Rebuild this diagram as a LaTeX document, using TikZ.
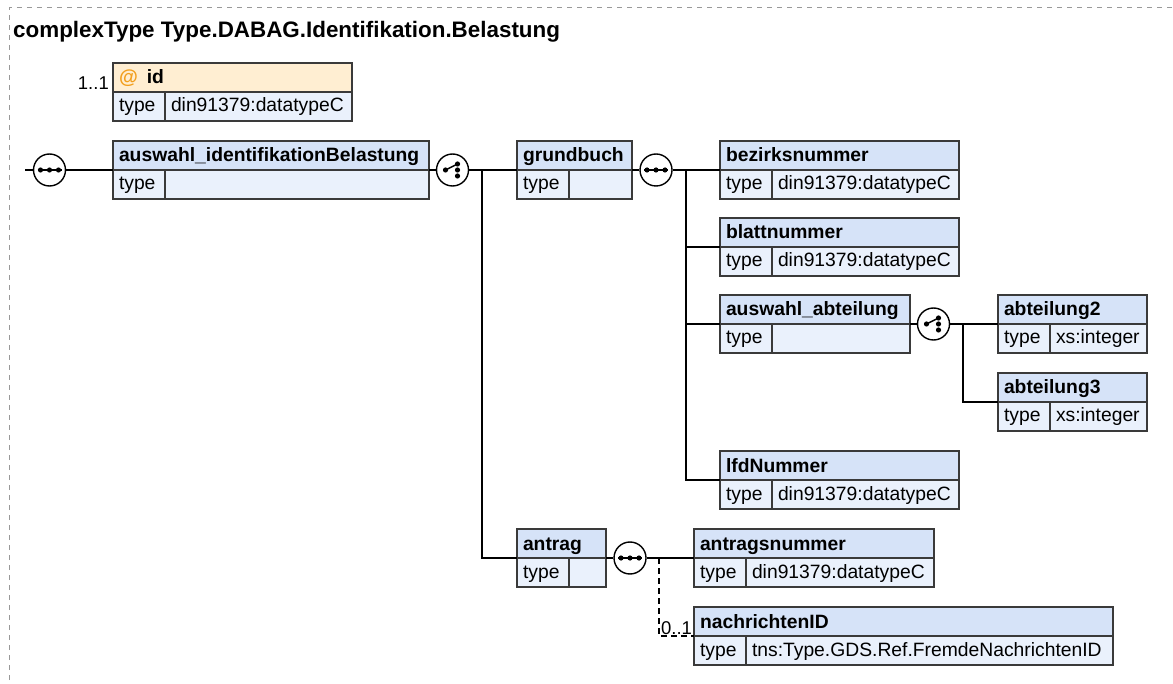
\documentclass[tikz,border=0pt]{standalone}
\usepackage{fontspec}
\setmainfont{Liberation Sans}
\usetikzlibrary{calc}

\definecolor{hdrblue}{HTML}{D6E3F8}
\definecolor{typblue}{HTML}{EAF1FC}
\definecolor{attrorange}{HTML}{FFEED2}
\definecolor{atsign}{HTML}{F29F1E}
\definecolor{frameg}{HTML}{999999}
\definecolor{boxline}{HTML}{3A3A3A}

% element box: name, top-left, width, title, type, header fill
\newcommand{\xsdbox}[6]{%
  \pgfmathsetmacro{\hw}{#3-12}%
  \pgfmathsetmacro{\vw}{#3-64}%
  \node[hdr, fill=#6, text width=\hw pt] (#1) at #2 {#4};
  \node[typcell, text width=40pt] (#1-k) at (#1.south west) {type};
  \node[typcell, text width=\vw pt] (#1-v) at (#1-k.north east) {#5};
}
\newcommand{\seqmark}[1]{%
  \begin{scope}[shift={(#1.center)}]
    \draw[line width=1.4pt] (-12,0) -- (12,0);
    \foreach \d in {-9,0,9} \fill (\d,0) circle (2.6);
  \end{scope}}
\newcommand{\choicemark}[1]{%
  \begin{scope}[shift={(#1.center)}]
    \draw[line width=1.4pt] (-7,0) -- (5,-6);
    \fill (-7,0) circle (2.6) (5,-6) circle (2.6) (5,0) circle (2.6) (5,6) circle (2.6);
  \end{scope}}

\begin{document}
\begin{tikzpicture}[
  x=1pt, y=-1pt,
  hdr/.style={draw=boxline, line width=1.4pt, anchor=north west, align=left, outer sep=0pt,
    inner ysep=0pt, inner xsep=6pt, minimum height=29pt, text height=21pt, text depth=8pt,
    font=\bfseries\fontsize{19.3}{22}\selectfont},
  typcell/.style={draw=boxline, fill=typblue, line width=1.4pt, anchor=north west, align=left,
    outer sep=0pt, inner ysep=0pt, inner xsep=6pt, minimum height=29pt, text height=20pt,
    text depth=9pt, font=\fontsize{19.3}{22}\selectfont},
  grp/.style={circle, draw=black, fill=white, line width=1.4pt, minimum size=32pt, inner sep=0pt},
  conn/.style={line width=1.4pt, black},
  mult/.style={font=\fontsize{18.5}{20}\selectfont, inner sep=1pt},
]
\useasboundingbox (0,0) rectangle (1173,684);
\clip (0,0) rectangle (1173,684);
\draw[frameg, line width=1pt, dash pattern=on 5pt off 5pt] (9,700) |- (1190,8);

\node[anchor=base west, inner sep=0pt, font=\bfseries\fontsize{22.4}{25}\selectfont] (title) at (13,38)
  {complexType Type.DABAG.Identifikation.Belastung};

% attribute
\xsdbox{idattr}{(113,63)}{239}{\textcolor{atsign}{@}\hspace{9pt}id}{din91379:datatypeC}{attrorange}
\node[mult, anchor=base east] (idmult) at (110,90) {1..1};

% elements
\xsdbox{auswahlIB}{(113,141)}{316}{auswahl\_identifikationBelastung}{}{hdrblue}
\xsdbox{grundbuch}{(517,141)}{115}{grundbuch}{}{hdrblue}
\xsdbox{bezirksnummer}{(720,141)}{239}{bezirksnummer}{din91379:datatypeC}{hdrblue}
\xsdbox{blattnummer}{(720,218)}{239}{blattnummer}{din91379:datatypeC}{hdrblue}
\xsdbox{auswahlAbt}{(720,295)}{190}{auswahl\_abteilung}{}{hdrblue}
\xsdbox{abteilung2}{(998,295)}{149}{abteilung2}{xs:integer}{hdrblue}
\xsdbox{abteilung3}{(998,373)}{149}{abteilung3}{xs:integer}{hdrblue}
\xsdbox{lfdNummer}{(720,451)}{239}{lfdNummer}{din91379:datatypeC}{hdrblue}
\xsdbox{antrag}{(517,529)}{89}{antrag}{}{hdrblue}
\xsdbox{antragsnummer}{(694,529)}{240}{antragsnummer}{din91379:datatypeC}{hdrblue}
\xsdbox{nachrichtenID}{(694,607)}{419}{nachrichtenID}{tns:Type.GDS.Ref.FremdeNachrichtenID}{hdrblue}

% sequence / choice groups
\node[grp] (seqRoot) at (49.5,170) {};
\node[grp] (choiceIB) at (452.5,170) {};
\node[grp] (seqGrundbuch) at (656,170) {};
\node[grp] (choiceAbt) at (933.5,324) {};
\node[grp] (seqAntrag) at (630,558) {};

\coordinate (start) at (25,170);
\coordinate (brIB) at (482,170);
\coordinate (brGB) at (686,170);
\coordinate (brAbt) at (963,324);
\coordinate (brAntrag) at (659,558);

\draw[conn] (start) -- (seqRoot) -- (auswahlIB.south west);
\draw[conn] (auswahlIB.south east) -- (choiceIB) -- (grundbuch.south west);
\draw[conn] (brIB) |- (antrag.south west);
\draw[conn] (grundbuch.south east) -- (seqGrundbuch) -- (bezirksnummer.south west);
\draw[conn] (brGB) |- (lfdNummer.south west);
\draw[conn] (brGB |- blattnummer.south west) -- (blattnummer.south west);
\draw[conn] (brGB |- auswahlAbt.south west) -- (auswahlAbt.south west);
\draw[conn] (auswahlAbt.south east) -- (choiceAbt) -- (abteilung2.south west);
\draw[conn] (brAbt) |- (abteilung3.south west);
\draw[conn] (antrag.south east) -- (seqAntrag) -- (antragsnummer.south west);
\draw[conn, dash pattern=on 6pt off 4pt] (brAntrag) |- (nachrichtenID.south west)
  node[mult, pos=0.75, anchor=south] (nachrmult) {0..1};

\seqmark{seqRoot}
\choicemark{choiceIB}
\seqmark{seqGrundbuch}
\choicemark{choiceAbt}
\seqmark{seqAntrag}
\end{tikzpicture}
\end{document}
